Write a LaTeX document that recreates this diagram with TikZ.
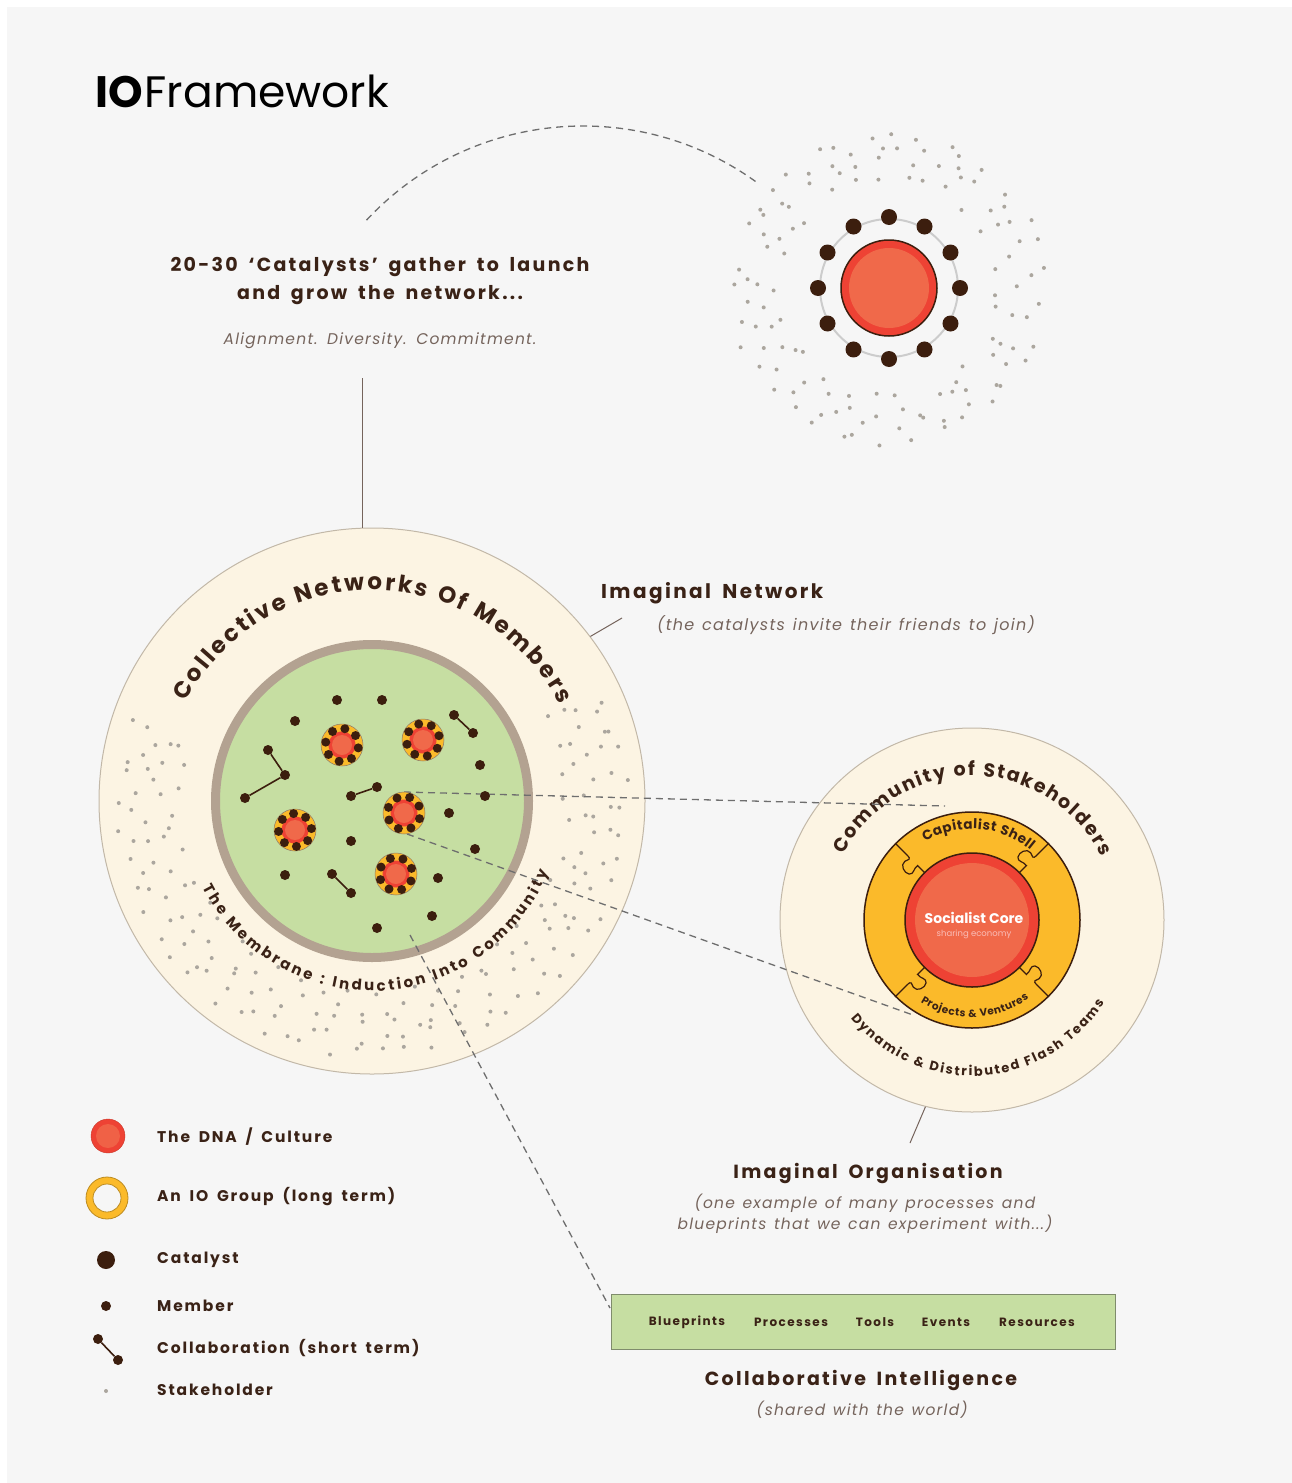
\documentclass[tikz,border=0pt]{standalone}
\usepackage{fontspec}
\setmainfont{Poppins}
\newfontfamily\headfont{Poppins}[LetterSpace=12, WordSpace=1.7]
\newfontfamily\lightfont{Poppins}[LetterSpace=8, WordSpace=1.3]
\usetikzlibrary{decorations.text}

\definecolor{ink}{HTML}{3A2216}
\definecolor{paper}{HTML}{F6F6F6}
\definecolor{cream}{HTML}{FCF4E3}
\definecolor{rim}{HTML}{C2B8A8}
\definecolor{leaf}{HTML}{C6DEA2}
\definecolor{membrane}{HTML}{B3A291}
\definecolor{dnared}{HTML}{EE4234}
\definecolor{dnacore}{HTML}{F0694A}
\definecolor{shell}{HTML}{FBBA2A}
\definecolor{seedbrown}{HTML}{3C1E0E}
\definecolor{dust}{HTML}{ABA69E}
\definecolor{dashgray}{HTML}{6E6E6E}
\definecolor{boxrim}{HTML}{7F8C6C}

\tikzset{
  headline/.style={font=\headfont\bfseries\fontsize{19}{28}\selectfont, text=ink, align=center, inner sep=0},
  note/.style={font=\lightfont\itshape\fontsize{15.5}{21}\selectfont, text=ink!70, align=center, inner sep=0},
  keytext/.style={font=\headfont\bfseries\fontsize{15.5}{18}\selectfont, text=ink, anchor=west, inner sep=0},
  boxtext/.style={font=\headfont\bfseries\fontsize{12}{14}\selectfont, text=ink, inner sep=0},
  catalyst/.style={circle, fill=seedbrown, inner sep=0, minimum size=16},
  member/.style={circle, fill=seedbrown, inner sep=0, minimum size=10},
  groupseed/.style={circle, fill=seedbrown, inner sep=0, minimum size=9},
  shellring/.style={circle, fill=shell, draw=seedbrown!60, line width=0.5, inner sep=0, minimum size=42},
  dashlink/.style={dashgray, line width=1.3, dash pattern=on 7pt off 5pt},
  tick/.style={ink!70, line width=1},
  collab/.style={seedbrown, line width=1.6},
  arctext/.style={decorate, decoration={text along path, text align={fit to path}, text color=ink,
    text={|\bfseries\fontsize{#1}{#1}\selectfont|\arcwords}}},
}

% an IO group: name, x, y, turn of its catalysts
\newcommand\iogroup[4]{%
  \node[shellring] (#1) at (#2,#3) {};
  \fill[dnared] (#1) circle (13.5);
  \fill[dnacore] (#1) circle (10);
  \foreach \k in {0,...,7}
    \node[groupseed] at ([shift={(#4+\k*45:16.5)}]#1) {};
}

\begin{document}
\begin{tikzpicture}[x=1pt,y=-1pt]
\fill[white] (0,0) rectangle (1292,1483);
\fill[paper] (7,7) rectangle (1292,1483);
\useasboundingbox (0,0) rectangle (1292,1483);

% title
\node[anchor=base west, inner sep=0] (title) at (95,107)
  {\fontsize{44}{44}\selectfont{\bfseries IO}\hspace{2pt}Framework};

% catalysts
\node[headline] (launch) at (380,281) {20-30 ‘Catalysts’ gather to launch\\and grow the network...};
\node[note] (values) at (380,341) {Alignment. Diversity. Commitment.};
\draw[dashlink] (583,422) ++(-137:296) arc[start angle=-137, end angle=-54, radius=296];

\pgfmathsetseed{2718}
\foreach \ringr in {112,126,...,154}{
  \pgfmathsetmacro\stepa{27/\ringr*57.3}
  \pgfmathtruncatemacro\cnt{360/\stepa}
  \foreach \j in {1,...,\cnt}{
    \pgfmathsetmacro\ang{\j*\stepa+0.4*\stepa*rand}
    \pgfmathsetmacro\dist{\ringr+6*rand}
    \fill[dust] ([shift={(\ang:\dist)}]889,288) circle (2);
  }
}
\node[circle, draw=black!20, line width=2, minimum size=138, inner sep=0] (orbit) at (889,288) {};
\foreach \k in {0,...,11}
  \node[catalyst] at ([shift={(\k*30:71)}]orbit) {};
\node[circle, fill=dnared, draw=seedbrown, line width=1.5, minimum size=96, inner sep=0] (dna) at (889,288) {};
\fill[dnacore] (dna) circle (40);

% imaginal network
\node[circle, fill=cream, draw=rim, line width=1, minimum size=546, inner sep=0] (net) at (372,801) {};
\draw[tick] (net.92) -- ++(0,-150);
\foreach \ringr in {196,210,...,252}{
  \pgfmathsetmacro\stepa{27/\ringr*57.3}
  \pgfmathtruncatemacro\cnt{222/\stepa}
  \foreach \j in {0,...,\cnt}{
    \pgfmathsetmacro\ang{-163-\j*\stepa+0.4*\stepa*rand}
    \pgfmathsetmacro\dist{\ringr+6*rand}
    \fill[dust] ([shift={(\ang:\dist)}]net) circle (2);
  }
}
\def\arcwords{Collective Networks Of Members}
\path[arctext=23] ([shift={(-152:211)}]net) arc[start angle=-152, end angle=-27, radius=211];
\def\arcwords{The Membrane : Induction Into Community}
\path[arctext=15] ([shift={(-207:190)}]net) arc[start angle=-207, end angle=-338, radius=190];

\node[headline, anchor=west, font=\headfont\bfseries\fontsize{20}{22}\selectfont] (netlabel) at (601,593) {Imaginal Network};
\node[note, anchor=west, font=\lightfont\itshape\fontsize{16}{20}\selectfont] (netnote) at (657,625) {(the catalysts invite their friends to join)};
\coordinate (nettick) at (622,618);
\draw[tick] (net.37) -- (nettick);

% imaginal organisation
\node[circle, fill=cream, draw=rim, line width=1, minimum size=384, inner sep=0] (org) at (972,920) {};
\draw[seedbrown, line width=1.5, fill=shell] (org) circle (108);
\foreach \a in {0,20,160,180,200,340}
  \draw[seedbrown, line width=1.2] ([shift={(\a:67)}]org) -- ([shift={(\a:108)}]org);
\foreach \a in {45,135,225,315}
  \draw[seedbrown, line width=1.2, shift={(org)}, rotate=\a]
    (67,0) -- (77,0) .. controls (78,-5) and (73,-9) .. (77,-12)
    .. controls (81,-15) and (90,-12) .. (89,-6) .. controls (88,-2) and (85,0) .. (92,0) -- (108,0);
\node[circle, fill=dnared, draw=seedbrown, line width=1.5, minimum size=134, inner sep=0] (core) at (org) {};
\fill[dnacore] (core) circle (57);
\node[font=\bfseries\fontsize{14}{14}\selectfont, text=white, inner sep=0] (corename) at (974,918) {Socialist Core};
\node[font=\fontsize{8.5}{9}\selectfont, text=dnared!35, inner sep=0] (coresub) at (974,934) {sharing economy};

\def\arcwords{Community of Stakeholders}
\path[arctext=19] ([shift={(-153:144)}]org) arc[start angle=-153, end angle=-26, radius=144];
\def\arcwords{Dynamic {\&} Distributed Flash Teams}
\path[arctext=13] ([shift={(-219:156)}]org) arc[start angle=-219, end angle=-328, radius=156];
\def\arcwords{Capitalist Shell}
\path[arctext=13.5] ([shift={(-121:91)}]org) arc[start angle=-121, end angle=-50, radius=91];
\def\arcwords{Projects {\&} Ventures}
\path[arctext=10.5] ([shift={(-238:97)}]org) arc[start angle=-238, end angle=-306, radius=97];

\node[headline] (orglabel) at (868,1173) {Imaginal Organisation};
\node[note] (orgnote) at (865,1214) {(one example of many processes and\\blueprints that we can experiment with...)};
\coordinate (orgtick) at (910,1143);
\draw[tick] (org.-104) -- (orgtick);

% the membrane
\node[circle, fill=leaf, draw=membrane, line width=9, minimum size=313, inner sep=0] (cell) at (372,801) {};

% links out of the groups
\coordinate (g3top) at (404,792);
\coordinate (g3low) at (407,834);
\coordinate (cellfoot) at (410,935);
\coordinate (shelltop) at (945,806);
\coordinate (shellfoot) at (913,1015);
\coordinate (commonsedge) at (610,1308);
\draw[dashlink] (g3top) -- (shelltop);
\draw[dashlink] (g3low) -- (shellfoot);
\draw[dashlink] (cellfoot) -- (commonsedge);

% groups and members
\iogroup{g1}{342}{745}{10}
\iogroup{g2}{423}{740}{-15}
\iogroup{g3}{404}{813}{20}
\iogroup{g4}{295}{830}{-5}
\iogroup{g5}{396}{874}{25}

\foreach \n/\x/\y in {m1/337/700, m2/382/700, m3/295/721, m4/480/765, m5/485/796,
    m6/449/813, m7/351/841, m8/475/849, m9/285/875, m10/438/878, m11/432/916, m12/377/928}
  \node[member] (\n) at (\x,\y) {};

\foreach \n/\x/\y in {c1/454/715, c2/473/733, c3/268/750, c4/285/775, c5/245/798,
    c6/351/796, c7/377/787, c8/332/874, c9/351/893}
  \node[member] (\n) at (\x,\y) {};
\draw[collab] (c1) -- (c2);
\draw[collab] (c3) -- (c4) -- (c5);
\draw[collab] (c6) -- (c7);
\draw[collab] (c8) -- (c9);

% collaborative intelligence
\node[draw=boxrim, fill=leaf, line width=1, minimum width=504, minimum height=55, inner sep=0] (commons) at (863,1322) {};
\foreach \x/\t in {687/Blueprints, 791/Processes, 875/Tools, 946/Events, 1037/Resources}
  \node[boxtext] at (\x,1322) {\t};
\node[headline] (ci) at (861,1380) {Collaborative Intelligence};
\node[note] (cinote) at (862,1410) {(shared with the world)};

% legend
\node[circle, fill=dnared, draw=dnared!85!black, minimum size=34, inner sep=0] (keydna) at (108,1136) {};
\fill[dnacore!80!dnared] (keydna) circle (12);
\node[keytext] (keydnatext) at (157,1137) {The DNA / Culture};
\node[circle, fill=shell, draw=shell!75!black, line width=0.8, minimum size=42, inner sep=0] (keygroup) at (107,1198) {};
\draw[fill=paper, draw=shell!75!black, line width=0.8] (keygroup) circle (14);
\node[keytext] (keygrouptext) at (157,1197) {An IO Group (long term)};
\node[catalyst, minimum size=18] (keycat) at (106,1260) {};
\node[keytext] (keycattext) at (157,1260) {Catalyst};
\node[member] (keymember) at (106,1306) {};
\node[keytext] (keymembertext) at (157,1306) {Member};
\node[member] (keya) at (98,1339) {};
\node[member] (keyb) at (118,1360) {};
\draw[collab] (keya) -- (keyb);
\node[keytext] (keycollabtext) at (157,1348) {Collaboration (short term)};
\fill[dust] (106,1391) circle (2);
\node[keytext] (keystaketext) at (157,1390) {Stakeholder};
\end{tikzpicture}
\end{document}
